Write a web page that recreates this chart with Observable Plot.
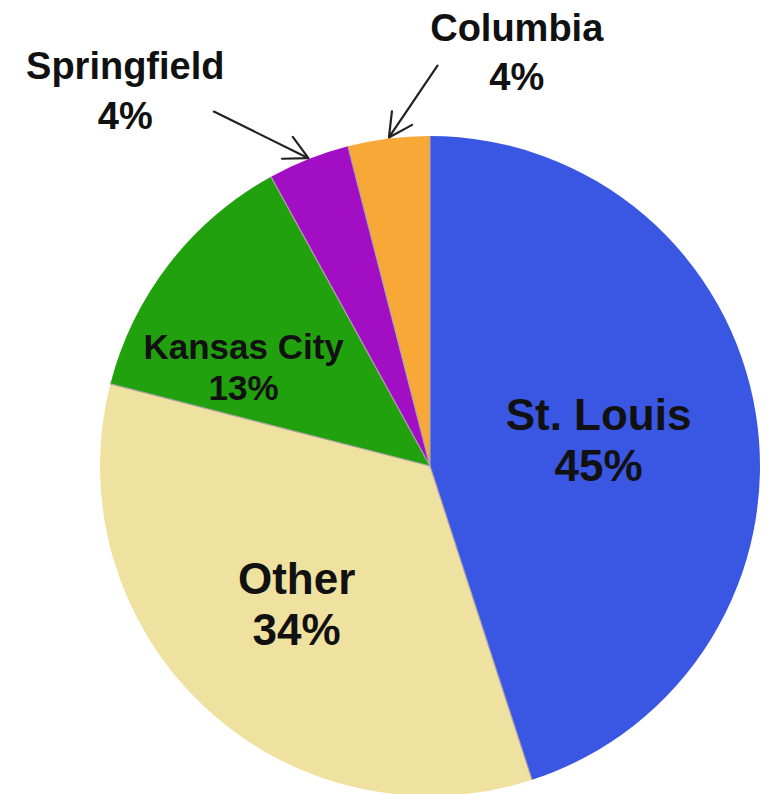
<!DOCTYPE html>
<html>
<head>
<meta charset="utf-8">
<script src="https://cdn.jsdelivr.net/npm/d3@7"></script>
<script src="https://cdn.jsdelivr.net/npm/@observablehq/plot@0.6"></script>
<style>
  html, body { margin: 0; padding: 0; background: #fff; }
  #chart svg { display: block; }
</style>
</head>
<body>
<div id="chart"></div>
<script>
// ---- data ----
const categories = ["St. Louis", "Other", "Kansas City", "Springfield", "Columbia"];
const shares = [45, 34, 13, 4, 4];
const pctLabels = ["45%", "34%", "13%", "4%", "4%"];

// ---- styling / layout (kept apart from the data) ----
const colors = ["#3a57e3", "#efe19f", "#22a10e", "#a20ec4", "#f7a837"];
// label anchor in polar form: [angle in degrees clockwise from 12 o'clock, radius factor]
const labelPolar = {
  "St. Louis": [80.7, 0.516],
  "Other": [224.5, 0.579],
  "Kansas City": [298.1, 0.642],
  "Springfield": [321.1, 1.473],
  "Columbia": [11.7, 1.289]
};
const labelSize = {"St. Louis": 44, "Other": 44, "Kansas City": 35, "Springfield": 38, "Columbia": 38};
const outside = new Set(["Springfield", "Columbia"]);
// arrow tails for the outside labels: [angle, radius factor]
const arrowTail = {"Springfield": [328.6, 1.26], "Columbia": [1.0, 1.215]};

const W = 768, H = 794, CX = 430, CY = 466, R = 330;

// ---- derived table ----
const pie = d3.pie().sort(null).value(d => d.share).startAngle(0).endAngle(2 * Math.PI);
const rows = categories.map((c, i) => ({category: c, share: shares[i], pct: pctLabels[i], color: colors[i]}));
const arcs = pie(rows);
const polar = (deg, rf) => {
  const a = deg * Math.PI / 180;
  return {x: rf * Math.sin(a), y: rf * Math.cos(a)};
};
const labels = arcs.map(a => {
  const c = a.data.category;
  const p = polar(...labelPolar[c]);
  return {...p, text: c + "\n" + a.data.pct, size: labelSize[c], outside: outside.has(c)};
});
const arrows = arcs.filter(a => arrowTail[a.data.category]).map(a => {
  const mid = (a.startAngle + a.endAngle) / 2 * 180 / Math.PI;
  const t = polar(...arrowTail[a.data.category]);
  const h = polar(mid, 1.005);
  return {x1: t.x, y1: t.y, x2: h.x, y2: h.y};
});

// wedges drawn through the x/y scales (1 unit = radius)
function wedges(index, scales) {
  const x0 = scales.x(0), y0 = scales.y(0);
  const r = scales.x(1) - scales.x(0);
  const arc = d3.arc().innerRadius(0).outerRadius(r);
  const g = d3.create("svg:g").attr("transform", `translate(${x0},${y0})`);
  g.selectAll("path").data(arcs).join("path")
    .attr("d", arc)
    .attr("fill", d => d.data.color);
  // thin separators along the radial edges only
  g.selectAll("line").data(arcs).join("line")
    .attr("x1", 0).attr("y1", 0)
    .attr("x2", d => r * Math.sin(d.startAngle))
    .attr("y2", d => -r * Math.cos(d.startAngle))
    .attr("stroke", "#b0a2a8")
    .attr("stroke-width", 1.2);
  return g.node();
}

const font = "'Liberation Sans', Arial, Helvetica, sans-serif";

const chart = Plot.plot({
  width: W,
  height: H,
  margin: 0,
  style: {background: "#fff", fontFamily: font},
  x: {domain: [-CX / R, (W - CX) / R], range: [0, W], axis: null},
  y: {domain: [-(H - CY) / R, CY / R], range: [H, 0], axis: null},
  marks: [
    wedges,
    Plot.arrow(arrows, {
      x1: "x1", y1: "y1", x2: "x2", y2: "y2",
      stroke: "#222", strokeWidth: 2.2, headLength: 18, headAngle: 55, bend: 0
    }),
    Plot.text(labels.filter(d => !d.outside), {
      x: "x", y: "y", text: "text", fontSize: "size",
      lineHeight: 1.16, fontWeight: "bold", fill: "#111", fontFamily: font
    }),
    Plot.text(labels.filter(d => d.outside), {
      x: "x", y: "y", text: "text", fontSize: "size",
      lineHeight: 1.3, fontWeight: "bold", fill: "#111", fontFamily: font
    })
  ]
});
document.getElementById("chart").appendChild(chart);
</script>
</body>
</html>
